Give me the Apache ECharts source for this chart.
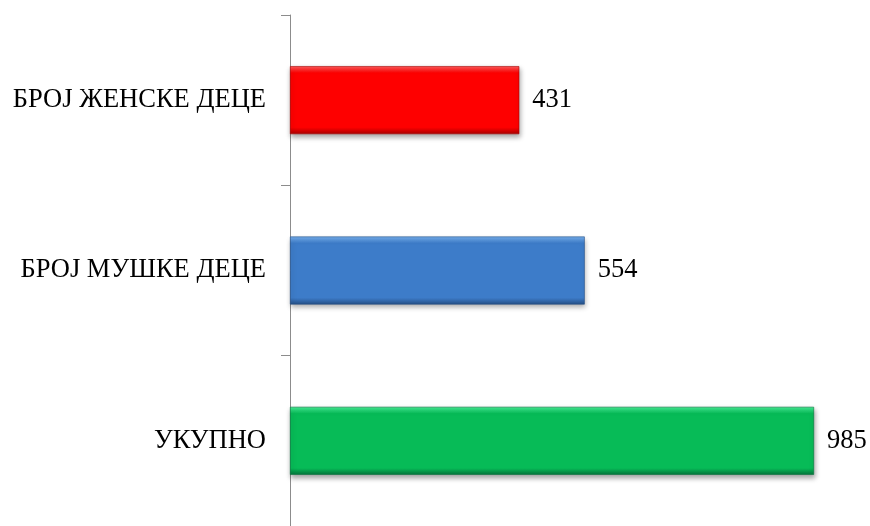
<!DOCTYPE html>
<html>
<head>
<meta charset="utf-8">
<script src="https://cdn.jsdelivr.net/npm/echarts@6/dist/echarts.min.js"></script>
<style>
  html, body { margin: 0; padding: 0; background: #ffffff; }
  #chart { width: 870px; height: 526px; }
</style>
</head>
<body>
<div id="chart"></div>
<script>
// Number of children by sex, plus the total
const categories = ['БРОЈ ЖЕНСКЕ ДЕЦЕ', 'БРОЈ МУШКЕ ДЕЦЕ', 'УКУПНО'];
const values = [431, 554, 985];

// Bar shading: light top edge, main fill, dark bottom edge
const shades = [
  { top: '#ff5a5a', main: '#fe0000', bottom: '#a80000' },
  { top: '#76b0ef', main: '#3d7cc9', bottom: '#254f85' },
  { top: '#45ee95', main: '#07bb57', bottom: '#04733a' }
];

function barGradient(s) {
  return new echarts.graphic.LinearGradient(0, 0, 0, 1, [
    { offset: 0, color: s.top },
    { offset: 0.1, color: s.main },
    { offset: 0.9, color: s.main },
    { offset: 1, color: s.bottom }
  ]);
}

const serif = '"Liberation Serif", "Times New Roman", serif';
const chart = echarts.init(document.getElementById('chart'), null, { renderer: 'canvas' });

chart.setOption({
  backgroundColor: '#ffffff',
  animation: false,
  grid: { left: 290, top: 15, width: 532, height: 516 },
  xAxis: {
    type: 'value',
    min: 0,
    max: 1000,
    show: false
  },
  yAxis: {
    type: 'category',
    data: categories,
    inverse: true,
    axisLine: { show: true, lineStyle: { color: '#8c8c8c', width: 1 } },
    axisTick: { show: true, length: 9, lineStyle: { color: '#8c8c8c' } },
    axisLabel: {
      margin: 24,
      color: '#000000',
      fontFamily: serif,
      fontSize: 26.5
    },
    splitLine: { show: false }
  },
  series: [{
    type: 'bar',
    barWidth: 68,
    data: values.map((v, i) => ({
      value: v,
      itemStyle: {
        color: barGradient(shades[i]),
        borderColor: shades[i].bottom,
        borderWidth: 0.6,
        shadowColor: 'rgba(0,0,0,0.35)',
        shadowBlur: 5,
        shadowOffsetX: 1,
        shadowOffsetY: 3
      }
    })),
    label: {
      show: true,
      position: 'right',
      distance: 13,
      color: '#000000',
      fontFamily: serif,
      fontSize: 26.5
    }
  }]
});
</script>
</body>
</html>
